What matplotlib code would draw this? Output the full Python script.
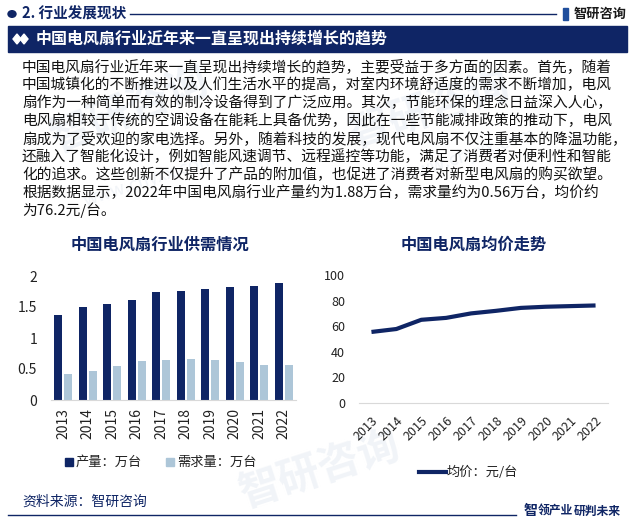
import matplotlib
matplotlib.use('Agg')
import matplotlib.pyplot as plt
from matplotlib.patches import Rectangle, Circle, Polygon
from matplotlib.lines import Line2D

plt.rcParams['font.family'] = ['Noto Sans CJK SC', 'DejaVu Sans']

years = ['2013', '2014', '2015', '2016', '2017', '2018', '2019', '2020', '2021', '2022']
production = [1.37, 1.50, 1.55, 1.61, 1.74, 1.76, 1.79, 1.82, 1.84, 1.88]
demand = [0.42, 0.47, 0.55, 0.63, 0.64, 0.66, 0.64, 0.61, 0.57, 0.56]
price = [55.5, 57.8, 65.0, 66.5, 70.0, 72.0, 74.3, 75.2, 75.7, 76.2]

body_lines = [
    "中国电风扇行业近年来一直呈现出持续增长的趋势，主要受益于多方面的因素。首先，随着",
    "中国城镇化的不断推进以及人们生活水平的提高，对室内环境舒适度的需求不断增加，电风",
    "扇作为一种简单而有效的制冷设备得到了广泛应用。其次，节能环保的理念日益深入人心，",
    "电风扇相较于传统的空调设备在能耗上具备优势，因此在一些节能减排政策的推动下，电风",
    "扇成为了受欢迎的家电选择。另外，随着科技的发展，现代电风扇不仅注重基本的降温功能，",
    "还融入了智能化设计，例如智能风速调节、远程遥控等功能，满足了消费者对便利性和智能",
    "化的追求。这些创新不仅提升了产品的附加值，也促进了消费者对新型电风扇的购买欲望。",
    "根据数据显示，2022年中国电风扇行业产量约为1.88万台，需求量约为0.56万台，均价约",
    "为76.2元/台。",
]

NAVY = '#0f2565'
LIGHT = '#adc6d8'
W, H = 634, 523
fig = plt.figure(figsize=(W / 100, H / 100), dpi=100)


def fx(x):
    return x / W


def fy(y):
    return 1 - y / H


# faint watermarks (outside the plotting areas)
wm_color = '#f1f4f8'
for (x, y, s, r) in [(130, 110, 30, 22), (430, 110, 30, 18), (320, 470, 30, 18)]:
    fig.text(fx(x), fy(y), '智研咨询', fontsize=s, color=wm_color, rotation=r,
             ha='center', va='center', fontweight='bold', zorder=-5)
for (x, y, r) in [(150, 180, 18), (470, 155, 18)]:
    fig.text(fx(x), fy(y), 'www.chyxx.com', fontsize=13, color=wm_color, rotation=r,
             ha='center', va='center', zorder=-5)

# header
fig.patches.append(Circle((fx(12), fy(14)), 4 / W, transform=fig.transFigure, color=NAVY))
fig.text(fx(22), fy(14), '2. 行业发展现状', fontsize=10.5, color=NAVY, fontweight='bold',
         ha='left', va='center')
fig.add_artist(Line2D([fx(130), fx(556)], [fy(14), fy(14)], color=NAVY, lw=1))
fig.patches.append(Rectangle((fx(563), fy(20)), 5 / W, 12 / H, transform=fig.transFigure,
                             color='#1f4e9c'))
fig.text(fx(574), fy(14), '智研咨询', fontsize=9.5, color='#1a1a1a', fontweight='bold',
         ha='left', va='center')

# title banner
fig.patches.append(Rectangle((fx(8), fy(52)), 619 / W, 26 / H, transform=fig.transFigure,
                             color=NAVY))
for cx in (17, 24):
    fig.patches.append(Polygon([(fx(cx - 4), fy(39)), (fx(cx), fy(34)), (fx(cx + 4), fy(39)),
                                (fx(cx), fy(44))], closed=True, transform=fig.transFigure,
                               color='white'))
fig.text(fx(36), fy(39), '中国电风扇行业近年来一直呈现出持续增长的趋势', fontsize=11.5,
         color='white', fontweight='bold', ha='left', va='center')

# body text
for i, line in enumerate(body_lines):
    fig.text(fx(22), fy(67 + i * 17.9), line, fontsize=10.6, color='#111111',
             ha='left', va='center')

# chart titles
fig.text(fx(160), fy(245), '中国电风扇行业供需情况', fontsize=11.7, color=NAVY,
         fontweight='bold', ha='center', va='center')
fig.text(fx(474), fy(245), '中国电风扇均价走势', fontsize=11.7, color=NAVY,
         fontweight='bold', ha='center', va='center')

# left bar chart
ax1 = fig.add_axes([fx(51), fy(400), 245 / W, (400 - 276) / H])
ax1.patch.set_alpha(0)
x = list(range(len(years)))
ax1.bar([i - 0.2 for i in x], production, width=0.33, color=NAVY, label='产量：万台')
ax1.bar([i + 0.2 for i in x], demand, width=0.33, color=LIGHT, label='需求量：万台')
ax1.set_xlim(-0.5, len(years) - 0.5)
ax1.set_ylim(0, 2)
ax1.set_yticks([0, 0.5, 1, 1.5, 2])
ax1.set_yticklabels(['0', '0.5', '1', '1.5', '2'])
ax1.set_xticks(x)
ax1.set_xticklabels(years, rotation=90)
ax1.tick_params(length=0, labelsize=10, colors='#222222')
ax1.tick_params(axis='y', pad=10)
ax1.tick_params(axis='x', pad=6)
for s in ('top', 'right', 'left'):
    ax1.spines[s].set_visible(False)
ax1.spines['bottom'].set_color('#d9d9d9')

# left legend
fig.patches.append(Rectangle((fx(65), fy(466)), 8 / W, 8 / H, transform=fig.transFigure,
                             color=NAVY))
fig.text(fx(76), fy(462), '产量：万台', fontsize=9.5, color='#222222', ha='left', va='center')
fig.patches.append(Rectangle((fx(166), fy(466)), 8 / W, 8 / H, transform=fig.transFigure,
                             color=LIGHT))
fig.text(fx(177), fy(462), '需求量：万台', fontsize=9.5, color='#222222', ha='left',
         va='center')

# right line chart
ax2 = fig.add_axes([fx(359), fy(403), 249 / W, (403 - 275) / H])
ax2.patch.set_alpha(0)
ax2.plot(x, price, color=NAVY, lw=3, solid_joinstyle='round', solid_capstyle='butt')
ax2.set_xlim(-0.5, len(years) - 0.5)
ax2.set_ylim(0, 100)
ax2.set_yticks([0, 20, 40, 60, 80, 100])
ax2.set_xticks(x)
ax2.set_xticklabels(years, rotation=45, ha='right', rotation_mode='anchor')
ax2.tick_params(length=0, labelsize=9, colors='#222222')
ax2.tick_params(axis='y', pad=10)
ax2.tick_params(axis='x', pad=8)
for s in ('top', 'right', 'left'):
    ax2.spines[s].set_visible(False)
ax2.spines['bottom'].set_color('#d9d9d9')

fig.add_artist(Line2D([fx(419), fx(446)], [fy(472), fy(472)], color=NAVY, lw=3))
fig.text(fx(447), fy(472), '均价：元/台', fontsize=9.5, color='#222222', ha='left',
         va='center')

# footer
fig.text(fx(22), fy(502), '资料来源：智研咨询', fontsize=10, color=NAVY, ha='left',
         va='center')
fig.add_artist(Line2D([fx(8), fx(516)], [fy(515), fy(515)], color=NAVY, lw=1))
fig.text(fx(524), fy(511), '智', fontsize=10, color=NAVY, fontweight='bold', ha='left',
         va='center')
fig.text(fx(538), fy(511), '领产业', fontsize=8.5, color=NAVY, fontweight='bold', ha='left',
         va='center')
fig.text(fx(574), fy(511), '研判未来', fontsize=8.5, color=NAVY, fontweight='bold', ha='left',
         va='center')

fig.savefig('out.png', dpi=100)
